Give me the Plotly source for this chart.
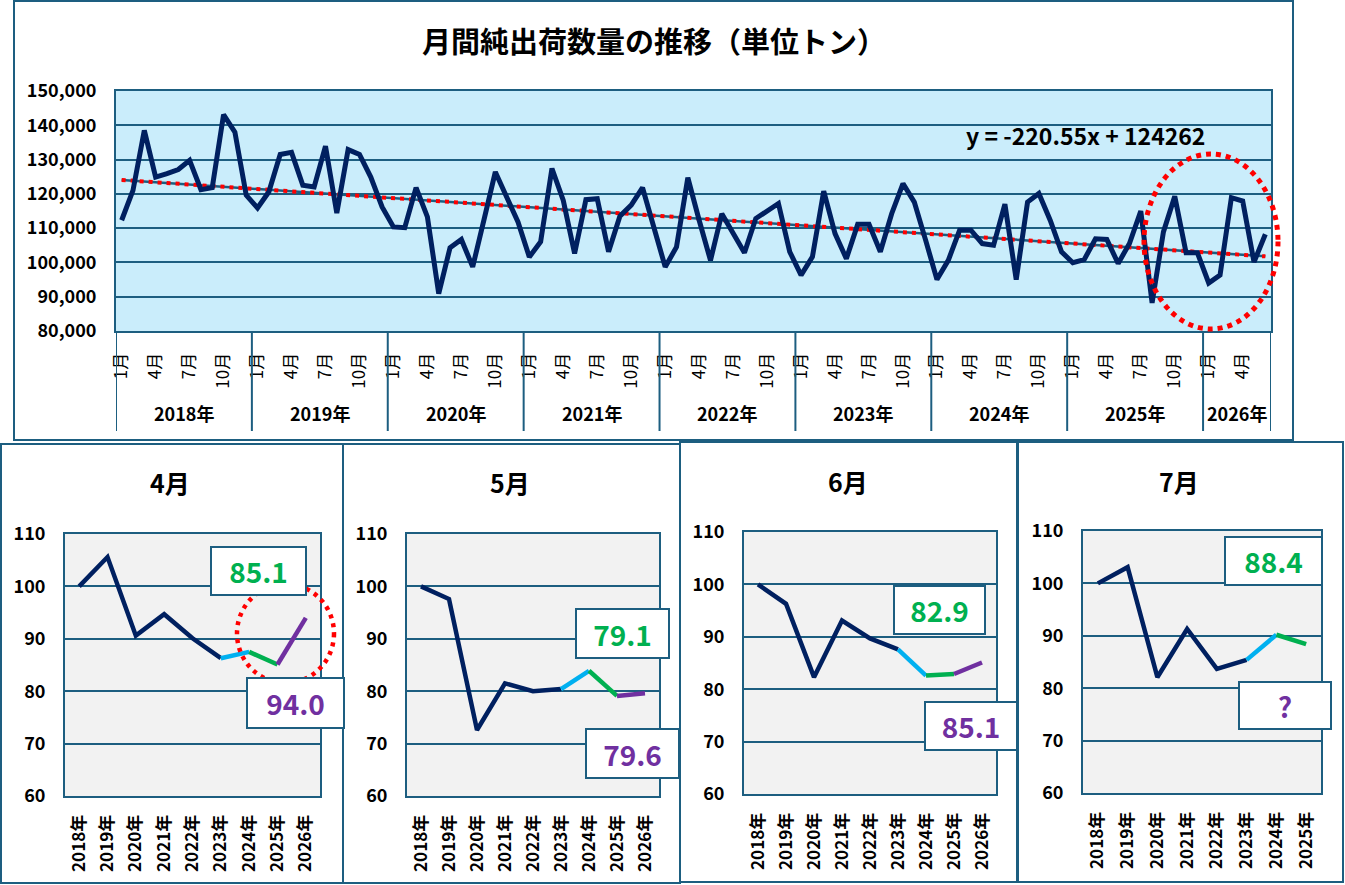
import plotly.graph_objects as go

# monthly net shipments (tons), 2018-01 .. 2026-06
shipments = [
    112300, 121000, 138500, 124900, 125900, 127100, 129800, 121200, 121800, 143100, 138000, 119600,
    115900, 120600, 131500, 132100, 122500, 122000, 133900, 114400, 132900, 131500, 124900, 116200,
    110350, 110150, 121800, 113300, 90900, 104300, 106700, 98700, 112500, 126400, 119100, 111800,
    101600, 106000, 127400, 118100, 102600, 118300, 118600, 103100, 113500, 116700, 121800, 110350,
    98700, 104500, 124700, 112300, 100600, 114200, 108400, 102800, 112800, 115200, 117200, 103100,
    96300, 101600, 120800, 108400, 101100, 111100, 111100, 103100, 114200, 123000, 117600, 106500,
    95000, 100600, 109400, 109400, 105500, 105000, 117000, 95000, 117600, 120100, 112300, 103100,
    99900, 100800, 106900, 106700, 99700, 105500, 115000, 88200, 108900, 119300, 102800, 102800,
    94000, 96300, 118900, 117900, 100100, 108200,
]
first_year = 2018
trend_slope = -220.55
trend_intercept = 124262
year_labels = ["2018年", "2019年", "2020年", "2021年", "2022年", "2023年", "2024年", "2025年", "2026年"]
month_ticks = [1, 4, 7, 10]

# same month, index vs 2018 (=100)
panel_titles = ["4月", "5月", "6月", "7月"]
april_index = [100.0, 105.6, 90.6, 94.7, 90.1, 86.3, 87.5, 85.1, 94.0]
may_index = [100.0, 97.6, 72.6, 81.5, 80.0, 80.4, 83.9, 79.1, 79.6]
june_index = [100.0, 96.3, 82.3, 93.1, 89.7, 87.6, 82.6, 82.9, 85.1]
july_index = [100.0, 103.1, 82.1, 91.3, 83.7, 85.4, 90.2, 88.4]

W, H = 1345, 885
FONT = "Noto Sans CJK JP"
TEAL = "#1d5e80"
NAVY = "#002060"
CYAN = "#00b0f0"
GREEN = "#00b050"
PURPLE = "#7030a0"


def px(x):
    return x / W


def py(y):
    return 1 - y / H


def dom_x(a, b):
    return [px(a), px(b)]


def dom_y(top, bottom):
    return [py(bottom), py(top)]


def label(x, y, text, size, color="#000", **kw):
    d = dict(x=px(x), y=py(y), xref="paper", yref="paper", text=text, showarrow=False,
             xanchor="center", yanchor="middle",
             font=dict(family=FONT, size=size, color=color, weight="bold"))
    d.update(kw)
    return d


fig = go.Figure()
shapes = []
annotations = []

# ---- main chart ----
pos = list(range(len(shipments)))
months = [i % 12 + 1 for i in pos]
trend = [trend_intercept + trend_slope * (i + 1) for i in pos]

fig.add_trace(go.Scatter(x=pos, y=trend, mode="lines", line=dict(color=TEAL, width=2.5),
                         hoverinfo="skip", showlegend=False))
fig.add_trace(go.Scatter(x=pos, y=trend, mode="lines", line=dict(color="#ff0000", width=4, dash="4px,5px"),
                         hoverinfo="skip", showlegend=False))
fig.add_trace(go.Scatter(x=pos, y=shipments, mode="lines", line=dict(color=NAVY, width=5),
                         showlegend=False))

tick_pos = [i for i in pos if months[i] in month_ticks]
tick_txt = [f"{months[i]}月" for i in tick_pos]

axis_common = dict(showline=True, mirror=True, linecolor=TEAL, linewidth=2, zeroline=False, automargin=False)

layout_axes = dict(
    xaxis=dict(domain=dom_x(116, 1271), anchor="y", range=[-0.5, len(pos) - 0.5],
               tickvals=tick_pos, ticktext=tick_txt, tickangle=-90, showgrid=False, ticks="",
               tickfont=dict(family=FONT, size=17, color="#000"), ticklabelstandoff=13, **axis_common),
    yaxis=dict(domain=dom_y(91, 331), anchor="x", range=[80000, 150000], dtick=10000, tickformat=",",
               gridcolor=TEAL, gridwidth=2, ticks="",
               tickfont=dict(family=FONT, size=18, color="#000", weight="bold"), ticklabelstandoff=14,
               **axis_common),
)

# background of main plot
shapes.append(dict(type="rect", xref="x domain", yref="y domain", x0=0, x1=1, y0=0, y1=1,
                   fillcolor="#caedfb", line=dict(width=0), layer="below"))

n_years = (len(shipments) + 11) // 12
for k in range(n_years):
    idx = [i for i in pos if i // 12 == k]
    annotations.append(dict(x=sum(idx) / len(idx), y=py(413), xref="x", yref="paper",
                            text=year_labels[k], showarrow=False, xanchor="center", yanchor="middle",
                            font=dict(family=FONT, size=18, color="#000", weight="bold")))
bounds = [k * 12 - 0.5 for k in range(n_years)] + [len(pos) - 0.5]
for b in bounds:
    shapes.append(dict(type="line", xref="x", yref="paper", x0=b, x1=b, y0=py(331), y1=py(431),
                       line=dict(color=TEAL, width=2)))

annotations.append(label(654, 40, "月間純出荷数量の推移（単位トン）", 29))
annotations.append(label(1085, 135, f"y = {trend_slope}x + {trend_intercept}", 23))

# frame of main chart
shapes.append(dict(type="rect", xref="paper", yref="paper", x0=px(14), x1=px(1293), y0=py(440), y1=py(1),
                   line=dict(color=TEAL, width=2)))

# red ellipse on main chart
shapes.append(dict(type="circle", xref="paper", yref="paper", x0=px(1144), x1=px(1278), y0=py(329), y1=py(154),
                   line=dict(color="#ff0000", width=5, dash="5px,5px")))

# ---- small panels ----
panels = [
    dict(values=april_index, frame=(1, 343, 444, 883), plot=(65, 320, 534, 796), title=(170, 482),
         green=(258.5, 571, 97, 50), purple=(295.5, 703, 99, 52)),
    dict(values=may_index, frame=(343, 680, 444, 883), plot=(407, 659, 534, 796), title=(510, 482),
         green=(622.5, 633.5, 95, 51), purple=(632.5, 753.5, 95, 51)),
    dict(values=june_index, frame=(680, 1017, 442, 882), plot=(744, 996, 532, 794), title=(848, 481),
         green=(939.5, 610, 93, 50), purple=(971, 726, 94, 50)),
    dict(values=july_index, frame=(1018, 1343, 442, 882), plot=(1083, 1321, 531, 793), title=(1179, 481),
         green=(1273.5, 561, 99, 50), purple=(1285, 705.5, 94, 49)),
]

segments = [(0, 5, NAVY), (5, 6, CYAN), (6, 7, GREEN), (7, 8, PURPLE)]

for n, (p, title) in enumerate(zip(panels, panel_titles), start=2):
    vals = p["values"]
    cats = year_labels[:len(vals)]
    fx0, fx1, fy0, fy1 = p["frame"]
    shapes.append(dict(type="rect", xref="paper", yref="paper", x0=px(fx0), x1=px(fx1), y0=py(fy1), y1=py(fy0),
                       line=dict(color=TEAL, width=2), layer="below"))
    xa, ya = f"x{n}", f"y{n}"
    for s0, s1, col in segments:
        if s1 < len(vals):
            fig.add_trace(go.Scatter(x=cats[s0:s1 + 1], y=vals[s0:s1 + 1], mode="lines",
                                     line=dict(color=col, width=4.5), xaxis=xa, yaxis=ya, showlegend=False))
    ax0, ax1, ay0, ay1 = p["plot"]
    layout_axes[f"xaxis{n}"] = dict(domain=dom_x(ax0, ax1), anchor=ya, type="category",
                                    range=[-0.5, len(vals) - 0.5], tickangle=-90, showgrid=False, ticks="",
                                    tickfont=dict(family=FONT, size=17, color="#000", weight="bold"),
                                    ticklabelstandoff=10, **axis_common)
    layout_axes[f"yaxis{n}"] = dict(domain=dom_y(ay0, ay1), anchor=xa, range=[60, 110], dtick=10,
                                    gridcolor=TEAL, gridwidth=2, ticks="",
                                    tickfont=dict(family=FONT, size=18, color="#000", weight="bold"),
                                    ticklabelstandoff=14, **axis_common)
    shapes.append(dict(type="rect", xref=f"{xa} domain", yref=f"{ya} domain", x0=0, x1=1, y0=0, y1=1,
                       fillcolor="#f2f2f2", line=dict(width=0), layer="below"))
    annotations.append(label(p["title"][0], p["title"][1], title, 25))
    green_txt = f"{vals[7]:.1f}"
    purple_txt = f"{vals[8]:.1f}" if len(vals) > 8 else "?"
    for (cx, cy, bw, bh), txt, col in [(p["green"], green_txt, GREEN), (p["purple"], purple_txt, PURPLE)]:
        annotations.append(label(cx, cy, txt, 28, color=col, width=bw - 4, height=bh - 4,
                                 bgcolor="#ffffff", bordercolor=TEAL, borderwidth=2, borderpad=0))

# red dotted circle on April panel
shapes.append(dict(type="circle", xref="paper", yref="paper", x0=px(237), x1=px(334), y0=py(683), y1=py(584),
                   line=dict(color="#ff0000", width=4.5, dash="4px,5px")))

fig.update_layout(
    width=W, height=H, margin=dict(l=0, r=0, t=0, b=0, autoexpand=False),
    paper_bgcolor="#ffffff", plot_bgcolor="rgba(0,0,0,0)",
    font=dict(family=FONT, color="#000"),
    shapes=shapes, annotations=annotations, showlegend=False,
    **layout_axes,
)

fig.write_html("out.html", config={"displayModeBar": False},
               post_script="document.body.style.margin='0';")
